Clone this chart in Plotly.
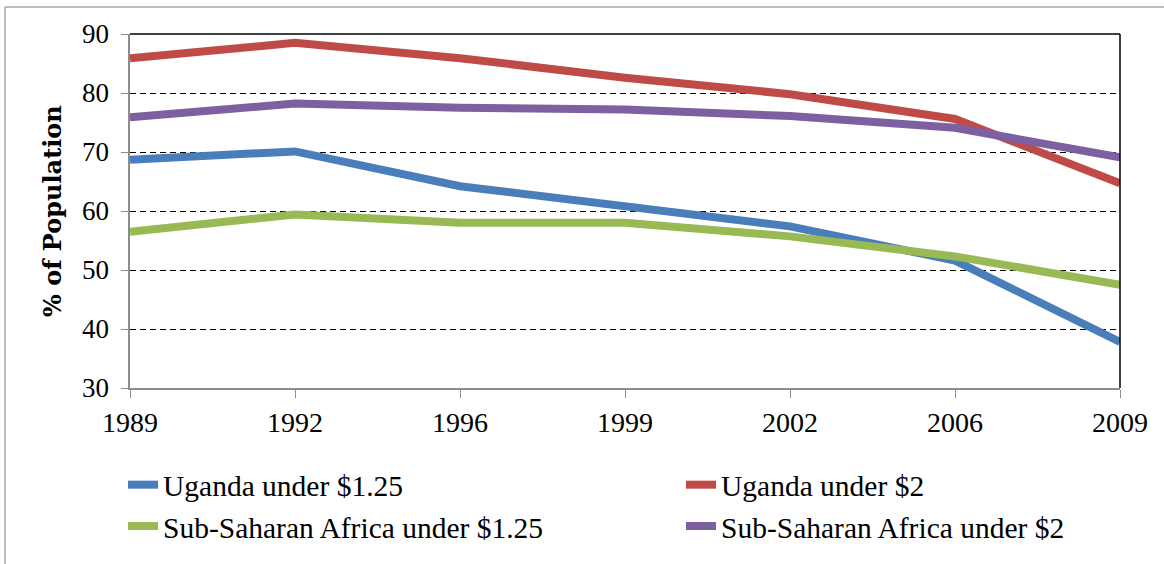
import plotly.graph_objects as go

years = ["1989", "1992", "1996", "1999", "2002", "2006", "2009"]
uganda_125 = [68.7, 70.1, 64.2, 60.8, 57.4, 51.6, 37.8]
uganda_2 = [85.9, 88.5, 85.9, 82.6, 79.8, 75.6, 64.7]
ssa_125 = [56.5, 59.4, 58.0, 58.0, 55.7, 52.3, 47.5]
ssa_2 = [75.9, 78.2, 77.5, 77.2, 76.1, 74.1, 69.1]
y_title = "% of Population"

series = [
    ("Uganda under $1.25", uganda_125, "#4A7EBB"),
    ("Uganda under $2", uganda_2, "#BE4B48"),
    ("Sub-Saharan Africa under $1.25", ssa_125, "#98B954"),
    ("Sub-Saharan Africa under $2", ssa_2, "#7D60A0"),
]

W, H = 1164, 564
ML, MR, MT, MB = 130, 44, 34, 176
PW = W - ML - MR
PH = H - MT - MB

fig = go.Figure()
for name, vals, col in series:
    fig.add_trace(go.Scatter(x=years, y=vals, name=name, mode="lines",
                             line=dict(color=col, width=8)))

serif = "Liberation Serif"


def px_to_paper_x(px):
    return (px - ML) / PW


def px_to_paper_y(py):
    return (H - MB - py) / PH


fig.update_layout(
    width=W, height=H,
    margin=dict(l=ML, r=MR, t=MT, b=MB, autoexpand=False),
    paper_bgcolor="white", plot_bgcolor="white",
    font=dict(family=serif, color="black"),
    showlegend=True,
    legend=dict(orientation="h", x=px_to_paper_x(123), y=px_to_paper_y(459),
                xanchor="left", yanchor="top", entrywidth=513, entrywidthmode="pixels",
                font=dict(family=serif, size=29.5), tracegroupgap=0,
                itemwidth=30, traceorder="normal", bgcolor="rgba(0,0,0,0)"),
    xaxis=dict(type="category", range=[0, 6], showgrid=False, showline=True,
               linecolor="#8c8c8c", linewidth=1.5, ticks="outside", ticklen=8,
               tickcolor="#8c8c8c", tickfont=dict(size=28, family=serif),
               ticklabelstandoff=1, zeroline=False),
    yaxis=dict(range=[30, 90], dtick=10, showgrid=True, gridcolor="black",
               griddash="6px,4px", gridwidth=1, showline=True, linecolor="#8c8c8c",
               linewidth=1.5, ticks="outside", ticklen=7, tickcolor="#8c8c8c",
               tickfont=dict(size=27, family=serif), ticksuffix=" ",
               zeroline=False),
    annotations=[
        dict(text="<b>" + y_title + "</b>", textangle=-90, xref="paper", yref="paper",
             x=px_to_paper_x(52), y=0.5, xanchor="center", yanchor="middle",
             showarrow=False, font=dict(size=24, family="DejaVu Serif", color="black")),
    ],
    shapes=[
        dict(type="line", xref="paper", yref="paper", x0=0, x1=1, y0=1, y1=1,
             line=dict(color="black", width=1.5)),
        dict(type="line", xref="paper", yref="paper", x0=1, x1=1, y0=0, y1=1,
             line=dict(color="black", width=1.5)),
        dict(type="line", xref="paper", yref="paper", x0=px_to_paper_x(5), x1=px_to_paper_x(1170),
             y0=px_to_paper_y(7), y1=px_to_paper_y(7), line=dict(color="#a6a6a6", width=1.5)),
        dict(type="line", xref="paper", yref="paper", x0=px_to_paper_x(5), x1=px_to_paper_x(5),
             y0=px_to_paper_y(7), y1=px_to_paper_y(570), line=dict(color="#a6a6a6", width=1.5)),
    ],
)

fig.write_html("out.html", config={"displayModeBar": False})

with open("out.html", "r", encoding="utf-8") as f:
    html = f.read()
html = html.replace("<body>", '<body style="margin:0;overflow:hidden">', 1)
with open("out.html", "w", encoding="utf-8") as f:
    f.write(html)
